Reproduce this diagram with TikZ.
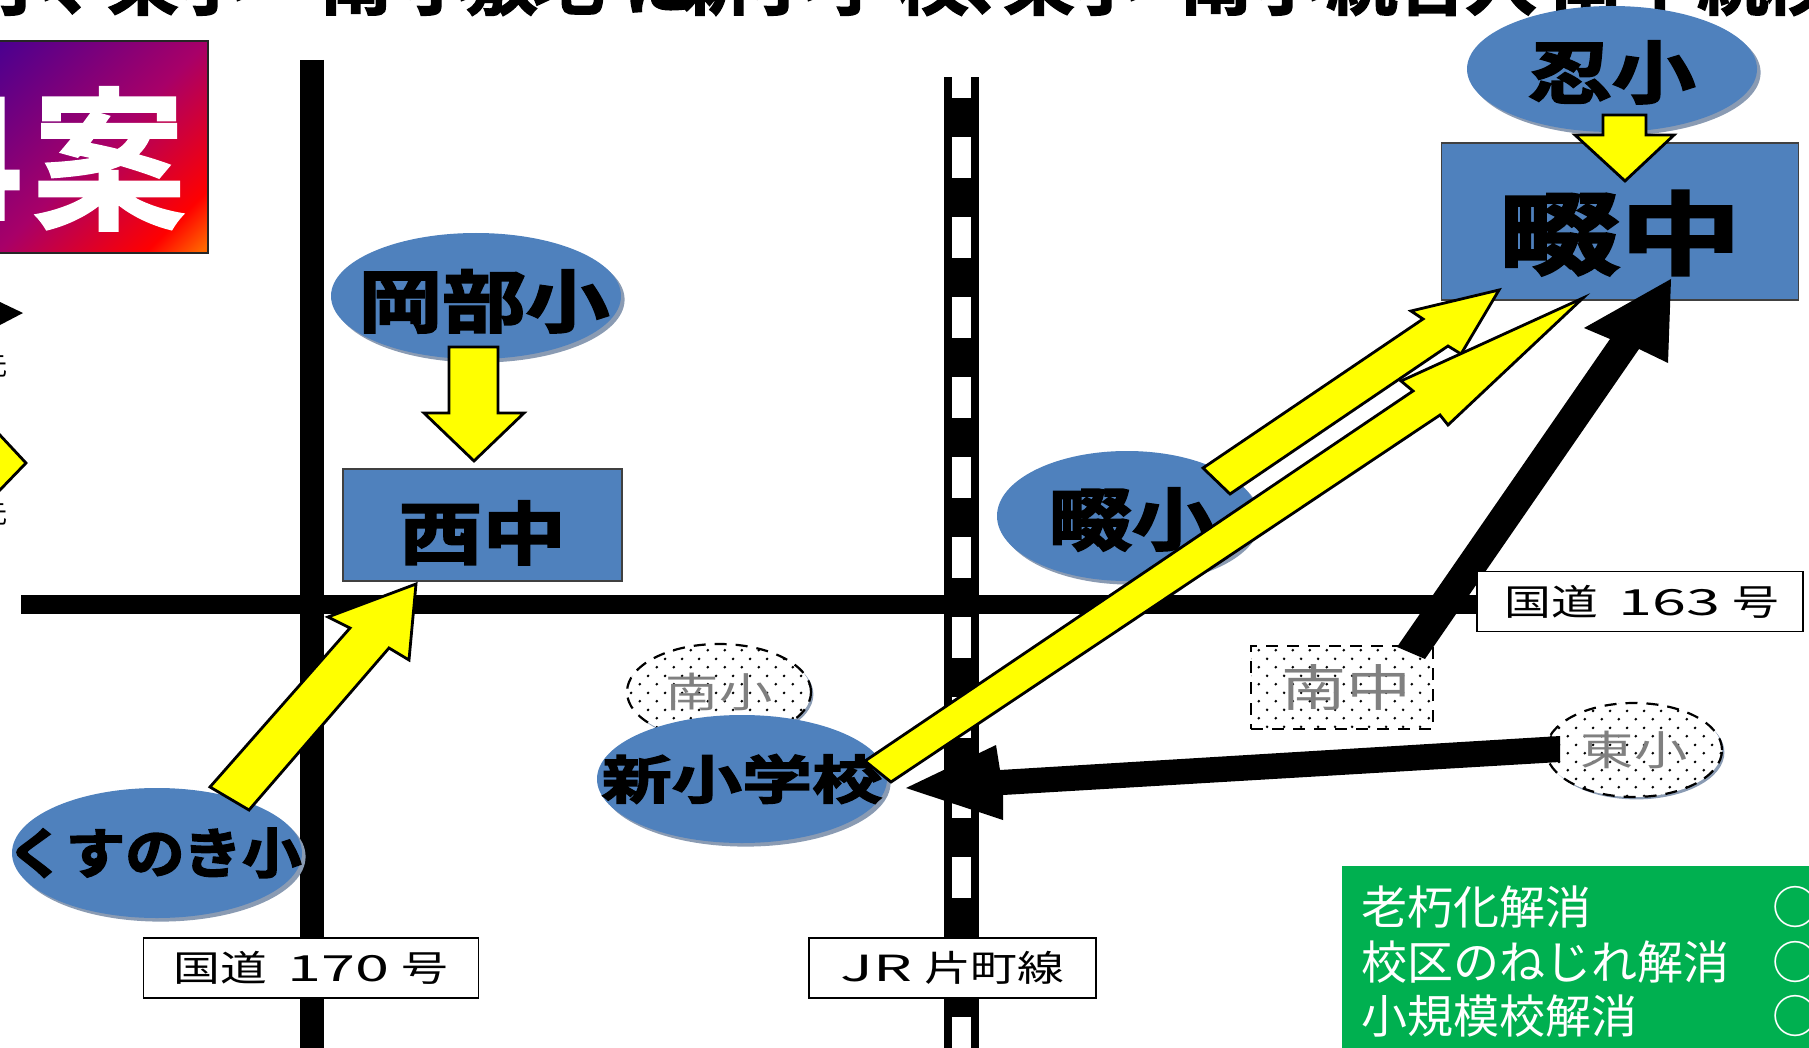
\documentclass[tikz,border=0pt]{standalone}
\usepackage{fontspec}
\usetikzlibrary{shapes.geometric,shadows,patterns}
\setmainfont{Noto Sans CJK JP}
\newfontfamily\heavy[UprightFont=* Bold,FakeBold=3,FakeStretch=1.23]{Noto Sans CJK JP}
\newfontfamily\heavyw[UprightFont=* Bold,FakeBold=3,FakeStretch=1.35]{Noto Sans CJK JP}
\newfontfamily\heavyn[UprightFont=* Bold,FakeBold=3,FakeStretch=1.1]{Noto Sans CJK JP}
\newfontfamily\titlef[UprightFont=* Bold,FakeBold=2]{Noto Sans CJK JP}
\newfontfamily\caseff[UprightFont=* Bold,FakeBold=1]{Noto Sans CJK JP}
\newfontfamily\plain{Noto Sans CJK JP}
\newfontfamily\thinw[FakeStretch=1.3]{Noto Sans CJK JP}
\newfontfamily\digw[FakeStretch=1.7]{Noto Sans CJK JP}
\newcommand\fsz[1]{\fontsize{#1pt}{#1pt}\selectfont}
\definecolor{blue1}{RGB}{79,129,189}
\definecolor{shadowc}{RGB}{138,155,179}
\definecolor{green1}{RGB}{0,176,80}
\definecolor{yel}{RGB}{255,255,0}
\definecolor{g0}{RGB}{74,0,144}
\definecolor{g1}{RGB}{168,0,104}
\definecolor{g2}{RGB}{255,0,0}
\definecolor{g3}{RGB}{255,102,0}
\pgfdeclarehorizontalshading{gradbox}{100bp}{color(0bp)=(g0); color(15bp)=(g0); color(50bp)=(g1); color(75bp)=(g2); color(84bp)=(g3); color(100bp)=(g3)}
\pgfdeclarepatternformonly{oldDots}{\pgfqpoint{0pt}{0pt}}{\pgfqpoint{8.6pt}{8.6pt}}{\pgfqpoint{8.6pt}{8.6pt}}{%
  \pgfpathcircle{\pgfqpoint{2pt}{2pt}}{.75pt}
  \pgfpathcircle{\pgfqpoint{6.3pt}{6.3pt}}{.75pt}
  \pgfusepath{fill}}
\newcommand\blockarrow[9]{%
  \coordinate (#2-1) at #3; \coordinate (#2-2) at #4; \coordinate (#2-3) at #5;
  \coordinate (#2-4) at #6; \coordinate (#2-5) at #7; \coordinate (#2-6) at #8;
  \coordinate (#2-7) at #9;
  \draw[#1] (#2-1)--(#2-2)--(#2-3)--(#2-4)--(#2-5)--(#2-6)--(#2-7)--cycle;}
\newcommand\wtxt[1]{\makebox[0pt]{#1}}
\tikzset{
  road/.style={line width=#1},
  yarrow/.style={fill=yel,draw=black,line width=1.4pt,line join=miter},
  karrow/.style={fill=black,draw=none},
  school/.style={ellipse,fill=blue1,inner sep=0pt,minimum width=145pt,minimum height=63pt,
    drop shadow={shadow xshift=1.8pt,shadow yshift=-1.8pt,fill=shadowc,opacity=1}},
  midbox/.style={rectangle,fill=blue1,draw=black!75,line width=.6pt,inner sep=0pt},
  old/.style={preaction={fill=white},draw=black,dash pattern=on 6pt off 4.5pt,line width=1.1pt,
    pattern=oldDots,inner sep=0pt,text=black!50},
  oldshadow/.style={drop shadow={shadow xshift=1.2pt,shadow yshift=-1.2pt,fill=shadowc,opacity=1}},
  roadlabel/.style={rectangle,fill=white,draw=black,line width=.7pt,inner sep=0pt,minimum height=30pt},
  titlech/.style={anchor=base,inner sep=0pt,font=\titlef\fsz{36}},
  greentxt/.style={anchor=west,inner sep=0pt,text=white,font=\plain\fsz{23}},
}
\begin{document}
\begin{tikzpicture}[x=.5pt,y=-.5pt]
\useasboundingbox (0,0) rectangle (1809,1048);
\clip (0,0) rectangle (1809,1048);
% title strip, cut by the top edge
\foreach \x/\c [count=\i] in {20/小,90/、,143/東,212/小,303/・,356/南,436/小,502/敷,568/地,659/に,716/新,783/小,855/学,933/校,1000/、,1039/東,1106/小,1160/・,1216/南,1287/小,1362/統,1432/合,1501/入,1586/南,1660/中,1733/統,1800/校}
  \node (title\i) [titlech] at (\x,9) {\c};
% gradient box
\shade[shading=gradbox,shading angle=-45] (-4,41) rectangle (208,253);
\draw[black!85,line width=.8pt] (-4,41) rectangle (208,253);
\node (anf) [anchor=base east,inner sep=0pt,text=white,font=\caseff\fsz{85}] at (24,220) {4};
\node (an) [inner sep=0pt,text=white,font=\caseff\fsz{77}] at (109,159) {案};
% legend fragments on the left edge
\fill[black] (0,302) -- (23,313) -- (0,325) -- cycle;
\draw[yarrow] (-2,433) -- (26,463) -- (-2,492) -- cycle;
\node (lega) [anchor=east,inner sep=0pt,font=\plain\fsz{13}] at (8,367) {元};
\node (legb) [anchor=east,inner sep=0pt,font=\plain\fsz{13}] at (8,515) {元};
% roads
\draw[road=12pt] (312,60) -- (312,1048);
\draw[road=9.5pt] (21,604.5) -- (1480,604.5);
% railway
\fill[black] (944,77) rectangle (979,1048);
\foreach \k in {0,...,12}
  \fill[white] (952,{max(57+80*\k,77)}) rectangle (971,{98+80*\k});
\fill[white] (952,1017) rectangle (971,1048);
% former schools
\node (minamisho) [oldshadow,ellipse,old,minimum width=92pt,minimum height=48pt,font=\thinw\fsz{20.5}] at (719,692) {\wtxt{南小}};
\node (higashisho) [oldshadow,ellipse,old,minimum width=88pt,minimum height=47pt,font=\thinw\fsz{20.5}] at (1634,750) {\wtxt{東小}};
\node (minamichu) [rectangle,old,minimum width=91pt,minimum height=41.5pt,font=\thinw\fsz{25}] at (1342,687.5) {\hspace*{4pt}南中};
% schools
\node (okabe) [school,font=\heavy\fsz{34},text height=35pt,text depth=4.2pt] at (476,296) {\wtxt{\hspace*{8pt}岡部小}};
\node (shinobu) [school,font=\heavy\fsz{34},text height=33pt,text depth=4.2pt] at (1612,69) {\wtxt{忍小}};
\node (nawasho) [school,minimum width=130pt,minimum height=65pt,font=\heavy\fsz{34},text height=33pt,text depth=4.2pt] at (1127,516) {\wtxt{\hspace*{5pt}畷小}};
\node (kusu) [school,minimum height=65pt,font=\heavyn\fsz{27}] at (157,853) {\wtxt{くすのき小\hspace*{3pt}}};
\node (shin) [school,minimum height=64pt,font=\heavyw\fsz{26}] at (742,779) {\wtxt{新小学校}};
\node (nishi) [midbox,minimum width=139.5pt,minimum height=56pt,font=\heavy\fsz{34},text height=38pt,text depth=4.2pt] at (482.5,525) {西中};
\node (nawachu) [midbox,minimum width=178.5pt,minimum height=78.5pt,font=\heavyw\fsz{45},text height=50pt,text depth=4.3pt] at (1620,221.5) {畷中};
% arrows
\blockarrow{yarrow}{aOkabe}{(449,347)}{(449,413)}{(424,413)}{(474,461)}{(524,413)}{(498,413)}{(498,347)}
\blockarrow{yarrow}{aShinobu}{(1603,115)}{(1603,135)}{(1575,135)}{(1625,181)}{(1674,135)}{(1646,135)}{(1646,115)}
\blockarrow{yarrow}{aKusu}{(210,787)}{(350,628)}{(328,617)}{(416,584)}{(409,660)}{(389,648)}{(249,810)}
\blockarrow{karrow}{aMinami}{(1397,647)}{(1610,339)}{(1584,328)}{(1671,279)}{(1668,363)}{(1639,349)}{(1425,659)}
\blockarrow{karrow}{aHigashi}{(1560,736)}{(1000,770)}{(996,745)}{(906,788)}{(1003,820)}{(1003,795)}{(1560,762)}
\blockarrow{yarrow}{aNawa}{(1203,468)}{(1423,319)}{(1411,311)}{(1499,290)}{(1461,354)}{(1448,346)}{(1230,494)}
\blockarrow{yarrow}{aShin}{(865,761)}{(1413,391)}{(1401,381)}{(1583,298)}{(1448,425)}{(1440,415)}{(891,782)}
% road labels
\node (r170) [roadlabel,minimum width=167.5pt,font=\thinw\fsz{18}] at (311,968) {国道\hspace{10pt}{\digw 170}\hspace{6pt}号};
\node (rjr) [roadlabel,minimum width=143.5pt,font=\thinw\fsz{18}] at (952.5,968) {{\digw JR}\hspace{6pt}片町線};
\node (r163) [roadlabel,minimum width=163pt,font=\thinw\fsz{18}] at (1640,601.5) {\hspace{2pt}国道\hspace{10pt}{\digw 163}\hspace{6pt}号};
% evaluation box
\fill[green1] (1342,866) rectangle (1809,1048);
\node (e1) [greentxt] at (1361,907) {老朽化解消};
\node (e2) [greentxt] at (1361,962) {校区のねじれ解消};
\node (e3) [greentxt] at (1361,1016) {小規模校解消};
\node (c1) [greentxt] at (1772,907) {○};
\node (c2) [greentxt] at (1772,962) {○};
\node (c3) [greentxt] at (1772,1016) {○};
\end{tikzpicture}
\end{document}
